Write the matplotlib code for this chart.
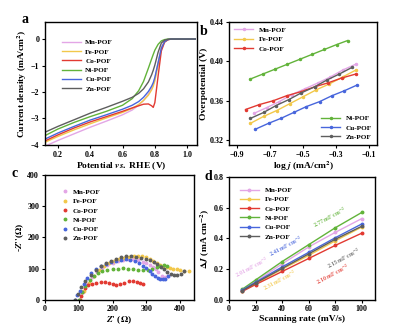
import matplotlib
matplotlib.use("Agg")
import matplotlib.pyplot as plt

plt.rcParams['font.family'] = ['Liberation Serif', 'DejaVu Serif']
plt.rcParams['mathtext.fontset'] = 'stix'
plt.rcParams['font.weight'] = 'bold'
plt.rcParams['axes.linewidth'] = 1.0

names = ['Mn-POF', 'Fe-POF', 'Co-POF', 'Ni-POF', 'Cu-POF', 'Zn-POF']
colors = ['#e3a6e6', '#f2c84b', '#e23a32', '#62b33a', '#4866dc', '#5e5e5e']

# (a) LSV curves
lsv_x = [0.12, 0.2, 0.3, 0.4, 0.5, 0.6, 0.66, 0.7, 0.73, 0.76, 0.78, 0.79, 0.8, 0.82,
         0.84, 0.86, 0.88, 0.9, 0.95, 1.05]
lsv_mn = [-4.05, -3.83, -3.58, -3.33, -3.1, -2.86, -2.68, -2.5, -2.32, -2.08, -1.86, -1.7,
          -1.5, -0.88, -0.3, -0.08, -0.02, 0, 0, 0]
lsv_fe = [-3.9, -3.68, -3.43, -3.2, -2.98, -2.77, -2.62, -2.47, -2.32, -2.12, -1.92, -1.78,
          -1.58, -0.98, -0.38, -0.1, -0.02, 0, 0, 0]
lsv_co = [-3.85, -3.62, -3.36, -3.13, -2.93, -2.73, -2.6, -2.52, -2.46, -2.45, -2.52, -2.58,
          -2.4, -1.4, -0.45, -0.12, -0.03, 0, 0, 0]
lsv_ni = [-3.65, -3.4, -3.15, -2.93, -2.73, -2.5, -2.25, -1.95, -1.6, -1.1, -0.75, -0.58,
          -0.42, -0.2, -0.07, -0.02, 0, 0, 0, 0]
lsv_cu = [-3.78, -3.55, -3.3, -3.06, -2.86, -2.65, -2.5, -2.36, -2.2, -1.98, -1.78, -1.65,
          -1.45, -0.9, -0.35, -0.1, -0.02, 0, 0, 0]
lsv_zn = [-3.52, -3.3, -3.05, -2.8, -2.58, -2.35, -2.2, -2.05, -1.88, -1.62, -1.35, -1.18,
          -0.98, -0.5, -0.15, -0.04, -0.01, 0, 0, 0]

# (b) Tafel
taf_x_mn = [-0.8, -0.72, -0.645, -0.57, -0.49, -0.41, -0.335, -0.26, -0.18]
taf_y_mn = [0.347, 0.353, 0.359, 0.366, 0.372, 0.378, 0.384, 0.391, 0.397]
taf_x_fe = [-0.82, -0.74, -0.66, -0.58, -0.5, -0.42, -0.34, -0.26, -0.18]
taf_y_fe = [0.337, 0.344, 0.350, 0.357, 0.364, 0.371, 0.377, 0.384, 0.391]
taf_x_co = [-0.85, -0.766, -0.68, -0.6, -0.515, -0.43, -0.35, -0.265, -0.18]
taf_y_co = [0.351, 0.356, 0.360, 0.365, 0.369, 0.374, 0.378, 0.383, 0.387]
taf_x_ni = [-0.82, -0.745, -0.67, -0.595, -0.52, -0.445, -0.37, -0.295, -0.23]
taf_y_ni = [0.382, 0.387, 0.392, 0.397, 0.402, 0.407, 0.412, 0.417, 0.421]
taf_x_cu = [-0.79, -0.71, -0.635, -0.557, -0.48, -0.4, -0.325, -0.25, -0.17]
taf_y_cu = [0.331, 0.337, 0.342, 0.348, 0.354, 0.359, 0.365, 0.370, 0.376]
taf_x_zn = [-0.82, -0.74, -0.665, -0.588, -0.51, -0.43, -0.355, -0.28, -0.2]
taf_y_zn = [0.342, 0.348, 0.355, 0.361, 0.368, 0.374, 0.381, 0.387, 0.394]

# (c) Nyquist
eis_x_mn = [100, 112, 125, 140, 155, 170, 185, 200, 215, 230, 245, 260, 275, 290, 300, 310,
            320, 328, 335, 345, 355, 365]
eis_y_mn = [0, 25, 50, 72, 90, 102, 112, 119, 125, 128, 130, 130, 128, 123, 118, 112,
            105, 98, 90, 78, 73, 75]
eis_x_fe = [105, 117, 130, 145, 160, 175, 190, 205, 220, 235, 250, 263, 275, 288, 300, 310,
            320, 330, 340, 350, 360, 370, 380, 390, 400, 412, 425]
eis_y_fe = [0, 28, 55, 78, 95, 108, 118, 125, 130, 134, 138, 140, 142, 140, 136, 131,
            125, 118, 112, 108, 104, 102, 100, 98, 96, 94, 93]
eis_x_co = [103, 106, 110, 118, 128, 140, 152, 165, 178, 190, 200, 211, 222, 235, 248, 260,
            272, 282, 290]
eis_y_co = [0, 12, 25, 38, 47, 52, 55, 56, 56, 55, 52, 48, 50, 55, 59, 60, 58, 55, 50]
eis_x_ni = [100, 110, 120, 132, 145, 158, 170, 185, 200, 215, 230, 245, 260, 275, 290, 305,
            318, 330, 340, 352, 360]
eis_y_ni = [0, 25, 45, 63, 78, 87, 92, 96, 99, 100, 101, 100, 98, 96, 95, 96, 100, 104,
            110, 112, 108]
eis_x_cu = [88, 96, 105, 115, 125, 137, 150, 165, 180, 195, 210, 225, 240, 253, 265, 278,
            290, 300, 310, 318, 325, 333, 340, 348, 355, 365]
eis_y_cu = [0, 15, 30, 50, 70, 86, 98, 108, 115, 121, 126, 129, 130, 128, 125, 118,
            110, 101, 92, 84, 75, 69, 66, 66, 68, 75]
eis_x_zn = [88, 97, 108, 120, 135, 150, 165, 180, 195, 210, 225, 240, 255, 270, 285, 300,
            312, 322, 332, 342, 352, 362, 372, 382, 392, 402, 412]
eis_y_zn = [0, 20, 40, 60, 80, 95, 108, 118, 126, 132, 137, 140, 140, 138, 135, 132,
            127, 121, 114, 106, 98, 90, 84, 80, 80, 84, 92]

# (d) double-layer capacitance
scan_rate = [10, 20, 40, 60, 80, 100]
dj_mn = [0.065, 0.12, 0.235, 0.345, 0.44, 0.53]
dj_fe = [0.06, 0.105, 0.2, 0.29, 0.385, 0.475]
dj_co = [0.055, 0.1, 0.185, 0.27, 0.355, 0.435]
dj_ni = [0.07, 0.13, 0.25, 0.36, 0.47, 0.57]
dj_cu = [0.065, 0.115, 0.215, 0.31, 0.405, 0.495]
dj_zn = [0.06, 0.11, 0.205, 0.3, 0.395, 0.48]
cdl_text = ['2.01', '2.31', '2.10', '2.77', '2.41', '2.15']

fig = plt.figure(figsize=(3.97, 3.31), dpi=100)
ax_a = fig.add_axes([0.113, 0.562, 0.383, 0.372])
ax_b = fig.add_axes([0.577, 0.562, 0.373, 0.372])
ax_c = fig.add_axes([0.113, 0.094, 0.375, 0.377])
ax_d = fig.add_axes([0.577, 0.094, 0.368, 0.371])

for ax in (ax_a, ax_b, ax_c, ax_d):
    ax.tick_params(labelsize=5.8, length=2.5, width=0.8, pad=1.5)
    for lab in ax.get_xticklabels() + ax.get_yticklabels():
        lab.set_fontweight('bold')

leg_kw = dict(fontsize=5.2, frameon=False, labelspacing=0.45, borderaxespad=0.3)

# a
lsv = [lsv_mn, lsv_fe, lsv_co, lsv_ni, lsv_cu, lsv_zn]
for y, c, n in zip(lsv, colors, names):
    ax_a.plot(lsv_x, y, color=c, lw=1.0, label=n)
ax_a.set_xlim(0.12, 1.06)
ax_a.set_ylim(-4, 0.65)
ax_a.set_xticks([0.2, 0.4, 0.6, 0.8, 1.0])
ax_a.set_yticks([0, -1, -2, -3, -4])
ax_a.set_xlabel(r'Potential $vs.$ RHE (V)', fontsize=6.8, fontweight='bold', labelpad=1)
ax_a.set_ylabel(r'Current density (mA/cm$^2$)', fontsize=6.8, fontweight='bold', labelpad=1)
ax_a.legend(loc='upper left', bbox_to_anchor=(0.08, 0.9), handlelength=2.6,
            handletextpad=0.6, **leg_kw)

# b
taf = [(taf_x_mn, taf_y_mn), (taf_x_fe, taf_y_fe), (taf_x_co, taf_y_co),
       (taf_x_ni, taf_y_ni), (taf_x_cu, taf_y_cu), (taf_x_zn, taf_y_zn)]
hb = []
for (x, y), c, n in zip(taf, colors, names):
    h, = ax_b.plot(x, y, color=c, lw=1.0, marker='o', ms=1.5, label=n)
    hb.append(h)
ax_b.set_xlim(-0.95, -0.05)
ax_b.set_ylim(0.315, 0.44)
ax_b.set_xticks([-0.9, -0.7, -0.5, -0.3, -0.1])
ax_b.set_yticks([0.32, 0.36, 0.40, 0.44])
ax_b.set_xlabel(r'log $j$ (mA/cm$^2$)', fontsize=6.8, fontweight='bold', labelpad=1)
ax_b.set_ylabel('Overpotential (V)', fontsize=6.8, fontweight='bold', labelpad=1)
leg1 = ax_b.legend(handles=hb[:3], loc='upper left', handlelength=2.6, **leg_kw)
ax_b.add_artist(leg1)
ax_b.legend(handles=hb[3:], loc='lower right', handlelength=2.6, **leg_kw)

# c
eis = [(eis_x_mn, eis_y_mn), (eis_x_fe, eis_y_fe), (eis_x_co, eis_y_co),
       (eis_x_ni, eis_y_ni), (eis_x_cu, eis_y_cu), (eis_x_zn, eis_y_zn)]
for (x, y), c, n in zip(eis, colors, names):
    ax_c.plot(x, y, ls='none', marker='o', ms=1.8, color=c, label=n)
ax_c.set_xlim(0, 440)
ax_c.set_ylim(0, 400)
ax_c.set_xticks([0, 100, 200, 300, 400])
ax_c.set_yticks([0, 100, 200, 300, 400])
ax_c.set_xlabel(r"$Z$' ($\Omega$)", fontsize=6.8, fontweight='bold', labelpad=1)
ax_c.set_ylabel(r"-$Z$''($\Omega$)", fontsize=6.8, fontweight='bold', labelpad=1)
ax_c.legend(loc='upper left', bbox_to_anchor=(0.08, 0.93), handlelength=1,
            handletextpad=0.5, **leg_kw)

# d
djs = [dj_mn, dj_fe, dj_co, dj_ni, dj_cu, dj_zn]
for y, c, n in zip(djs, colors, names):
    ax_d.plot(scan_rate, y, color=c, lw=1.0, marker='o', ms=1.8, label=n)
ax_d.set_xlim(0, 110)
ax_d.set_ylim(0, 0.8)
ax_d.set_xticks([0, 20, 40, 60, 80, 100])
ax_d.set_yticks([0.0, 0.2, 0.4, 0.6, 0.8])
ax_d.set_xlabel('Scanning rate (mV/s)', fontsize=6.8, fontweight='bold', labelpad=1)
ax_d.set_ylabel(r'$\Delta J$ (mA cm$^{-2}$)', fontsize=6.8, fontweight='bold', labelpad=1)
ax_d.legend(loc='upper left', bbox_to_anchor=(0.04, 0.96), handlelength=2.6, **leg_kw)
ann_pos = [(17, 0.215), (38, 0.13), (78, 0.17), (76, 0.54), (43, 0.35), (86, 0.27)]
for t, (x, y), c in zip(cdl_text, ann_pos, colors):
    ax_d.text(x, y, t + r' mF cm$^{-2}$', color=c, fontsize=4.2, rotation=28,
              ha='center', va='center', alpha=0.85)

# panel letters
fig.text(0.055, 0.93, 'a', fontsize=10, fontweight='bold')
fig.text(0.503, 0.895, 'b', fontsize=10, fontweight='bold')
fig.text(0.03, 0.465, 'c', fontsize=10, fontweight='bold')
fig.text(0.515, 0.455, 'd', fontsize=10, fontweight='bold')

fig.savefig('out.png', dpi=100)
